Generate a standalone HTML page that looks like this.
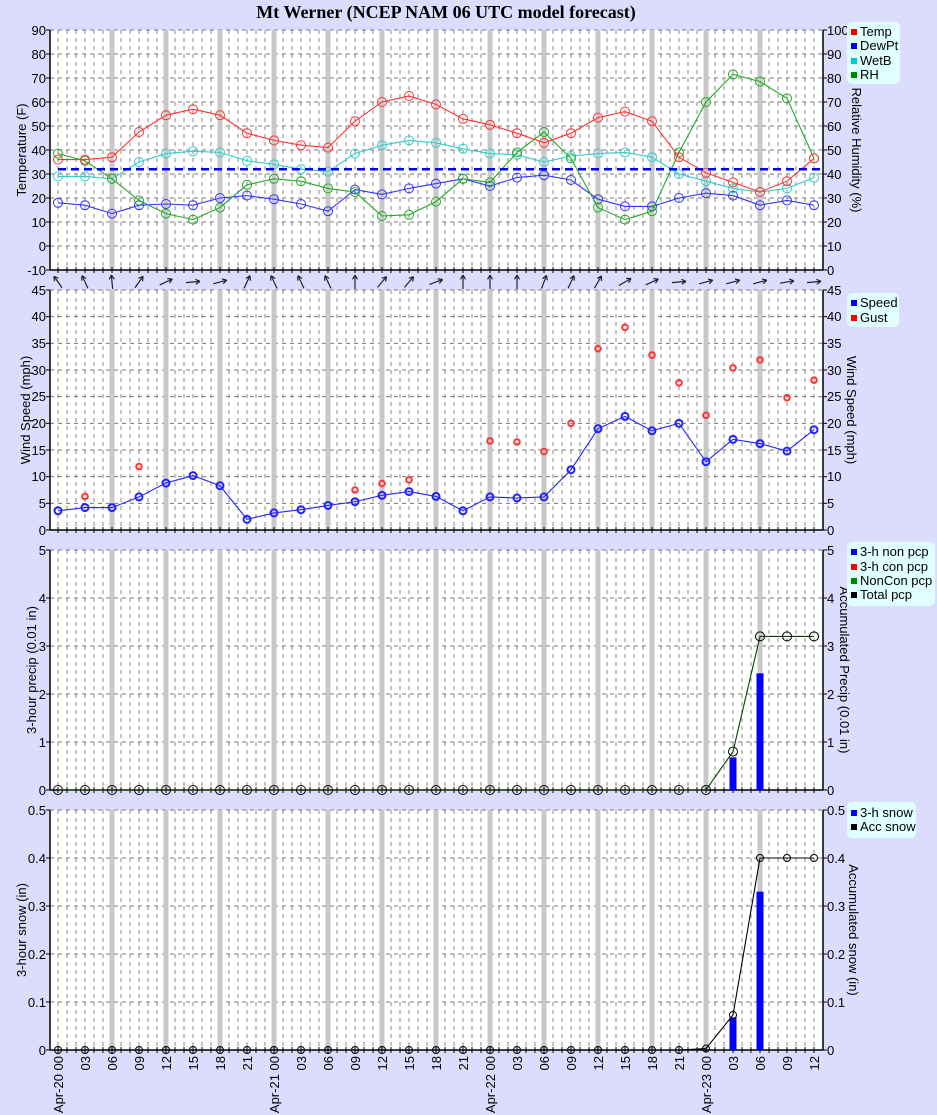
<!DOCTYPE html>
<html><head><meta charset="utf-8"><style>
body{margin:0;background:#dcdcff;}
svg{display:block;font-family:"Liberation Sans",sans-serif;font-size:13px;}
.l{text-anchor:end}
.lg{font-size:13px}
</style></head><body>
<svg id="s" width="937" height="1115" xmlns="http://www.w3.org/2000/svg">
<rect width="937" height="1115" fill="#dcdcff"/>
<text x="446" y="18" text-anchor="middle" font-family="Liberation Serif,serif" font-weight="bold" font-size="18">Mt Werner (NCEP NAM 06 UTC model forecast)</text>
<g id="plots"></g>
<g class="l">
<text x="46" y="35">90</text><text x="46" y="59">80</text><text x="46" y="83">70</text><text x="46" y="107">60</text><text x="46" y="131">50</text><text x="46" y="155">40</text><text x="46" y="179">30</text><text x="46" y="203">20</text><text x="46" y="227">10</text><text x="46" y="251">0</text><text x="46" y="275">-10</text>
<text x="46" y="295">45</text><text x="46" y="321">40</text><text x="46" y="348">35</text><text x="46" y="375">30</text><text x="46" y="401">25</text><text x="46" y="428">20</text><text x="46" y="455">15</text><text x="46" y="481">10</text><text x="46" y="508">5</text><text x="46" y="535">0</text>
<text x="46" y="555">5</text><text x="46" y="603">4</text><text x="46" y="651">3</text><text x="46" y="699">2</text><text x="46" y="747">1</text><text x="46" y="795">0</text>
<text x="46" y="815">0.5</text><text x="46" y="863">0.4</text><text x="46" y="911">0.3</text><text x="46" y="959">0.2</text><text x="46" y="1007">0.1</text><text x="46" y="1055">0</text>
</g>
<g>
<text x="827" y="35">100</text><text x="827" y="59">90</text><text x="827" y="83">80</text><text x="827" y="107">70</text><text x="827" y="131">60</text><text x="827" y="155">50</text><text x="827" y="179">40</text><text x="827" y="203">30</text><text x="827" y="227">20</text><text x="827" y="251">10</text><text x="827" y="275">0</text>
<text x="827" y="295">45</text><text x="827" y="321">40</text><text x="827" y="348">35</text><text x="827" y="375">30</text><text x="827" y="401">25</text><text x="827" y="428">20</text><text x="827" y="455">15</text><text x="827" y="481">10</text><text x="827" y="508">5</text><text x="827" y="535">0</text>
<text x="827" y="555">5</text><text x="827" y="603">4</text><text x="827" y="651">3</text><text x="827" y="699">2</text><text x="827" y="747">1</text><text x="827" y="795">0</text>
<text x="827" y="815">0.5</text><text x="827" y="863">0.4</text><text x="827" y="911">0.3</text><text x="827" y="959">0.2</text><text x="827" y="1007">0.1</text><text x="827" y="1055">0</text>
</g>
<text transform="translate(26,150) rotate(-90)" text-anchor="middle">Temperature (F)</text>
<text transform="translate(852,150) rotate(90)" text-anchor="middle">Relative Humidity (%)</text>
<text transform="translate(30,410) rotate(-90)" text-anchor="middle">Wind Speed (mph)</text>
<text transform="translate(847,410) rotate(90)" text-anchor="middle">Wind Speed (mph)</text>
<text transform="translate(36,670) rotate(-90)" text-anchor="middle">3-hour precip (0.01 in)</text>
<text transform="translate(840,670) rotate(90)" text-anchor="middle">Accumulated Precip (0.01 in)</text>
<text transform="translate(26,930) rotate(-90)" text-anchor="middle">3-hour snow (in)</text>
<text transform="translate(849,930) rotate(90)" text-anchor="middle">Accumulated snow (in)</text>
<rect x="847" y="22" width="53" height="62" rx="5" fill="#e0ffff"/>
<rect x="851" y="29" width="6" height="6" fill="#f00"/><text x="860" y="36" class="lg">Temp</text>
<rect x="851" y="43" width="6" height="6" fill="#00f"/><text x="860" y="50" class="lg">DewPt</text>
<rect x="851" y="58" width="6" height="6" fill="#0cc"/><text x="860" y="65" class="lg">WetB</text>
<rect x="851" y="72" width="6" height="6" fill="#080"/><text x="860" y="79" class="lg">RH</text>
<rect x="847" y="293" width="52" height="34" rx="5" fill="#e0ffff"/>
<rect x="851" y="300" width="6" height="6" fill="#00f"/><text x="860" y="307" class="lg">Speed</text>
<rect x="851" y="315" width="6" height="6" fill="#f00"/><text x="860" y="322" class="lg">Gust</text>
<rect x="847" y="542" width="88" height="64" rx="5" fill="#e0ffff"/>
<rect x="851" y="549" width="6" height="6" fill="#00f"/><text x="860" y="556" class="lg">3-h non pcp</text>
<rect x="851" y="564" width="6" height="6" fill="#f00"/><text x="860" y="571" class="lg">3-h con pcp</text>
<rect x="851" y="578" width="6" height="6" fill="#080"/><text x="860" y="585" class="lg">NonCon pcp</text>
<rect x="851" y="592" width="6" height="6" fill="#000"/><text x="860" y="599" class="lg">Total pcp</text>
<rect x="847" y="802" width="69" height="36" rx="5" fill="#e0ffff"/>
<rect x="851" y="810" width="6" height="6" fill="#00f"/><text x="860" y="817" class="lg">3-h snow</text>
<rect x="851" y="824" width="6" height="6" fill="#000"/><text x="860" y="831" class="lg">Acc snow</text>
<g text-anchor="end">
<text transform="translate(63,1056) rotate(-90)">Apr-20 00</text>
<text transform="translate(90,1056) rotate(-90)">03</text>
<text transform="translate(117,1056) rotate(-90)">06</text>
<text transform="translate(144,1056) rotate(-90)">09</text>
<text transform="translate(171,1056) rotate(-90)">12</text>
<text transform="translate(198,1056) rotate(-90)">15</text>
<text transform="translate(225,1056) rotate(-90)">18</text>
<text transform="translate(252,1056) rotate(-90)">21</text>
<text transform="translate(279,1056) rotate(-90)">Apr-21 00</text>
<text transform="translate(306,1056) rotate(-90)">03</text>
<text transform="translate(333,1056) rotate(-90)">06</text>
<text transform="translate(360,1056) rotate(-90)">09</text>
<text transform="translate(387,1056) rotate(-90)">12</text>
<text transform="translate(414,1056) rotate(-90)">15</text>
<text transform="translate(441,1056) rotate(-90)">18</text>
<text transform="translate(468,1056) rotate(-90)">21</text>
<text transform="translate(495,1056) rotate(-90)">Apr-22 00</text>
<text transform="translate(522,1056) rotate(-90)">03</text>
<text transform="translate(549,1056) rotate(-90)">06</text>
<text transform="translate(576,1056) rotate(-90)">09</text>
<text transform="translate(603,1056) rotate(-90)">12</text>
<text transform="translate(630,1056) rotate(-90)">15</text>
<text transform="translate(657,1056) rotate(-90)">18</text>
<text transform="translate(684,1056) rotate(-90)">21</text>
<text transform="translate(711,1056) rotate(-90)">Apr-23 00</text>
<text transform="translate(738,1056) rotate(-90)">03</text>
<text transform="translate(765,1056) rotate(-90)">06</text>
<text transform="translate(792,1056) rotate(-90)">09</text>
<text transform="translate(819,1056) rotate(-90)">12</text>
</g>
</svg>
<script>
var NS="http://www.w3.org/2000/svg",G=document.getElementById("plots");
function el(t,a){var e=document.createElementNS(NS,t);for(var k in a)e.setAttribute(k,a[k]);G.appendChild(e);return e;}
function X(i){return 58+27*i;}
var panels=[[30,270,10],[290,530,9],[550,790,5],[810,1050,5]];
panels.forEach(function(p){
 var t=p[0],b=p[1],n=p[2];
 el("rect",{x:50,y:t,width:773,height:b-t,fill:"#fff"});
 for(var k=1;k<n;k++){var y=t+(b-t)*k/n;el("line",{x1:50,x2:823,y1:y,y2:y,stroke:"#777","stroke-dasharray":"4,4","stroke-width":1});}
 for(var k=0;k<=85;k++){var x=58+9*k;if(x>822)break;el("line",{x1:x,x2:x,y1:t,y2:b,stroke:"#888","stroke-dasharray":"4,4","stroke-width":1});}
 el("line",{x1:50,x2:823,y1:t,y2:t,stroke:"#777","stroke-dasharray":"4,4"});
 for(var i=2;i<=26;i+=2)el("line",{x1:X(i),x2:X(i),y1:t,y2:b,stroke:"#c8c8c8","stroke-width":5});
 el("line",{x1:50,x2:50,y1:t,y2:b,stroke:"#000","stroke-width":1.5});
 el("line",{x1:823,x2:823,y1:t,y2:b,stroke:"#000","stroke-width":1.5});
 el("line",{x1:50,x2:823,y1:b,y2:b,stroke:"#000","stroke-width":1.5});
 for(var k=0;k<=n;k++){var y=t+(b-t)*k/n;el("line",{x1:46,x2:50,y1:y,y2:y,stroke:"#000"});el("line",{x1:823,x2:827,y1:y,y2:y,stroke:"#000"});}
 for(var k=0;k<=85;k++){var x=58+9*k;if(x>822)break;el("line",{x1:x,x2:x,y1:b-3,y2:b+3,stroke:"#000"});}
});
function series(vals,yf,col,opt){
 opt=opt||{};var pts=[];
 vals.forEach(function(v,i){if(v!==null)pts.push([X(i),yf(v)]);});
 if(!opt.noline)el("polyline",{points:pts.map(function(p){return p.join(",")}).join(" "),fill:"none",stroke:opt.lc||col,"stroke-width":opt.lw||1.1});
 pts.forEach(function(p){el("circle",{cx:p[0],cy:p[1],r:opt.r||4.5,fill:"none",stroke:col,"stroke-width":opt.sw||1});});
}
var yT=function(v){return 270-(v+10)*2.4};
series([18,17,13.5,17,17.5,17,20,21,19.5,17.5,14.5,23.5,21.5,24,26,28,25,28.5,29.5,27.5,19.5,16.5,16.5,20,22,21,17,19,17],yT,"#33f");
series([29,29,28,35,38.5,39.5,39,35.5,34,32,31,38.5,42,44,43,40.5,38.5,38,35,37.5,38.5,39,37,30,27,24,22.5,24,28.5],yT,"#3cc");
series([38.5,35.5,28,19,13.5,11,16,25.5,28,27,24,22.5,12.5,13,18.5,28,26.5,39,47.5,36.5,16,11,14.5,39,60,71.5,68.5,61.5,36.5],yT,"#2a2");
series([36,36,37,47.5,54.5,57,54.5,47,44,42,41,52,60,62.5,59,53,50.5,47,43,47,53.5,56,52,37,30.5,26.5,22.5,27,36.5],yT,"#f33");
el("line",{x1:58,x2:822,y1:yT(32),y2:yT(32),stroke:"#00f","stroke-width":2.5,"stroke-dasharray":"8,5"});
var yW=function(v){return 530-v*240/45};
series([3.6,4.2,4.2,6.2,8.8,10.2,8.3,2,3.2,3.8,4.6,5.3,6.5,7.2,6.3,3.6,6.2,6,6.2,11.3,19,21.3,18.6,20,12.8,17,16.2,14.8,18.8],yW,"#22f",{r:3.5,sw:2});
series([null,6.3,null,11.9,null,null,null,null,null,null,null,7.5,8.7,9.4,null,null,16.7,16.5,14.7,20,34,38,32.8,27.6,21.5,30.4,31.9,24.8,28.1],yW,"#f33",{noline:1,r:2.8,sw:2});
var ang=[-35,-25,-5,35,65,85,75,25,-25,-25,-25,0,40,40,70,0,0,0,20,25,30,60,65,85,75,75,75,80,85];
ang.forEach(function(a,i){var r=a*Math.PI/180,dx=Math.sin(r)*7,dy=-Math.cos(r)*7,cx=X(i),cy=282;
 var x2=cx+dx,y2=cy+dy;el("line",{x1:cx-dx,y1:cy-dy,x2:x2,y2:y2,stroke:"#222","stroke-width":1.2});
 [150,-150].forEach(function(h){var rr=r+h*Math.PI/180;el("line",{x1:x2,y1:y2,x2:x2+Math.sin(rr)*5,y2:y2-Math.cos(rr)*5,stroke:"#222","stroke-width":1.2});});});
var yP=function(v){return 790-v*48};
[[25,0.68],[26,2.43]].forEach(function(b){el("rect",{x:X(b[0])-3.5,y:yP(b[1]),width:7,height:b[1]*48,fill:"#00f"});});
var acc=[];for(var i=0;i<29;i++)acc.push(i<25?0:(i==25?0.8:3.2));
series(acc,yP,"#000",{lc:"#040"});
var yS=function(v){return 1050-v*480};
[[25,0.068],[26,0.33]].forEach(function(b){el("rect",{x:X(b[0])-3.5,y:yS(b[1]),width:7,height:b[1]*480,fill:"#00f"});});
var sa=[];for(var i=0;i<29;i++)sa.push(i<24?0:(i==24?0.003:(i==25?0.073:0.4)));
series(sa,yS,"#000",{r:3.5});
</script>
</body></html>
